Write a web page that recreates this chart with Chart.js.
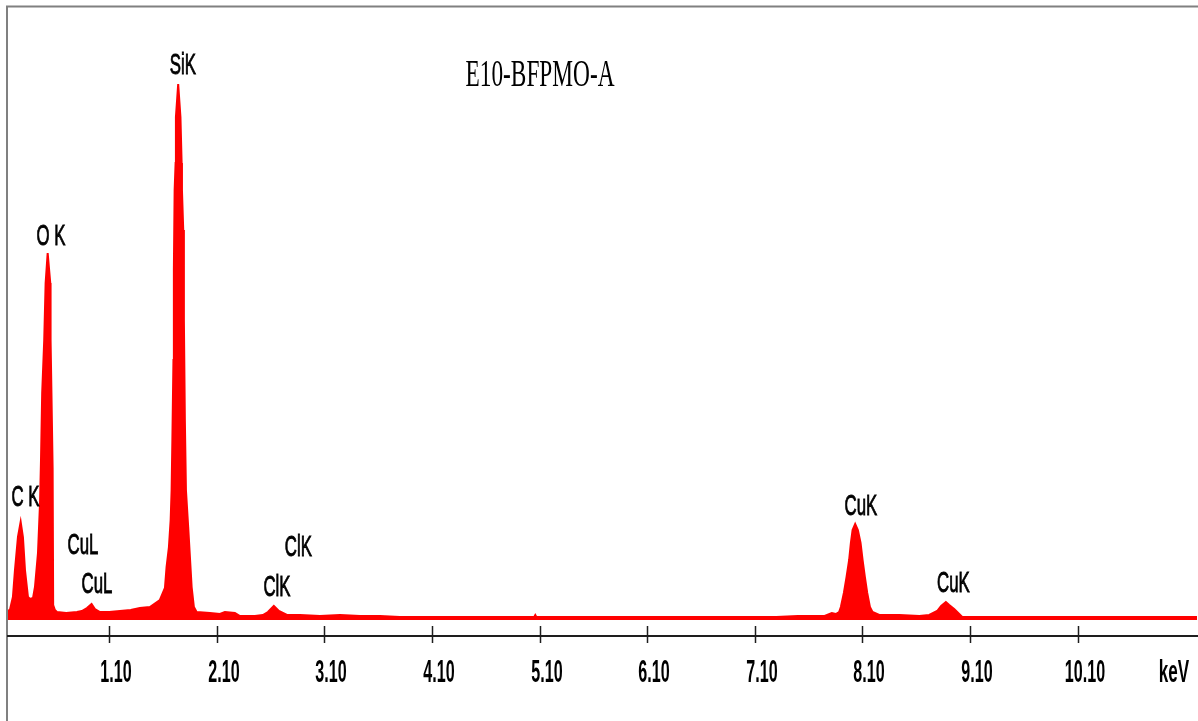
<!DOCTYPE html>
<html>
<head>
<meta charset="utf-8">
<script src="https://cdn.jsdelivr.net/npm/chart.js@4"></script>
<style>
  html, body { margin: 0; padding: 0; background: #fff; }
  canvas { display: block; }
</style>
</head>
<body>
<canvas id="myChart" width="1198" height="721"></canvas>
<script>
// EDS spectrum (keV / counts)
var energies = [0.15, 0.177, 0.205, 0.224, 0.252, 0.277, 0.298, 0.317, 0.345, 0.364,
  0.392, 0.410, 0.438, 0.457, 0.466, 0.477, 0.496, 0.509, 0.528, 0.552,
  0.555, 0.563, 0.574, 0.579, 0.595, 0.614, 0.70, 0.80, 0.846, 0.893,
  0.936, 0.967, 1.014, 1.10, 1.20, 1.30, 1.385, 1.478, 1.571, 1.618,
  1.633, 1.655, 1.671, 1.680, 1.687, 1.697, 1.701, 1.708, 1.717, 1.720,
  1.741, 1.762, 1.773, 1.776, 1.788, 1.794, 1.803, 1.813, 1.834, 1.850,
  1.866, 1.887, 1.912, 2.036, 2.129, 2.175, 2.268, 2.315, 2.454, 2.528,
  2.575, 2.630, 2.677, 2.752, 2.873, 3.059, 3.245, 3.431, 3.617, 3.80,
  5.05, 5.06, 5.07, 7.30, 7.50, 7.749, 7.816, 7.853, 7.884, 7.900,
  7.928, 7.953, 7.977, 7.993, 8.009, 8.033, 8.058, 8.083, 8.102, 8.123,
  8.145, 8.170, 8.194, 8.257, 8.443, 8.629, 8.721, 8.795, 8.832, 8.876,
  8.907, 8.953, 9.000, 9.028, 11.21];
var counts = [9, 10, 23, 50, 83, 98, 83, 50, 23, 21,
  22, 33, 67, 117, 160, 227, 280, 337, 367, 337,
  280, 227, 152, 15, 10, 8, 7, 8, 9, 12,
  16, 11, 8, 8, 9, 10, 12, 13, 20, 32,
  53, 73, 100, 130, 180, 260, 350, 430, 457, 503,
  536, 503, 457, 430, 390, 300, 200, 130, 93, 63,
  33, 13, 8, 7, 6, 8, 7, 4, 4, 5,
  8, 14, 9, 5, 5, 4, 5, 4, 4, 3,
  3, 5, 3, 3, 4, 4, 7, 6, 8, 13,
  27, 43, 60, 77, 90, 96, 90, 77, 60, 43,
  27, 13, 8, 5, 5, 4, 5, 9, 14, 18,
  15, 11, 6, 3, 3];

var tickValues = [1.1, 2.1, 3.1, 4.1, 5.1, 6.1, 7.1, 8.1, 9.1, 10.1];
var tickLabels = ["1.10", "2.10", "3.10", "4.10", "5.10", "6.10", "7.10", "8.10", "9.10", "10.10"];
var unitLabel = "keV";
var title = "E10-BFPMO-A";

// peak labels and where they sit (keV / counts)
var peakNames = ["C K", "O K", "CuL", "CuL", "SiK", "ClK", "ClK", "CuK", "CuK"];
var peakKeV = [0.321, 0.558, 0.856, 0.986, 1.785, 2.858, 2.659, 8.086, 8.946];
var peakAt = [125, 386, 77, 38, 557, 75, 35, 116, 39];

var points = energies.map((e, i) => ({x: e, y: counts[i]}));

// squeezed text, the picture is narrowed horizontally
function squeezed(ctx, text, x, y, font, size, k, heavy) {
  ctx.save();
  ctx.font = font;
  ctx.translate(x, y);
  ctx.scale(k, 1);
  ctx.textAlign = "center";
  ctx.textBaseline = "alphabetic";
  ctx.fillStyle = "#000";
  ctx.fillText(text, 0, size * 0.358);
  if (heavy) {
    ctx.strokeStyle = "#000";
    ctx.lineWidth = heavy;
    ctx.strokeText(text, 0, size * 0.358);
  }
  ctx.restore();
}

var decor = {
  id: "decor",
  beforeDraw(chart) {
    var ctx = chart.ctx;
    ctx.save();
    ctx.fillStyle = "#fff";
    ctx.fillRect(0, 0, chart.width, chart.height);
    ctx.restore();
  },
  afterDraw(chart) {
    var ctx = chart.ctx, area = chart.chartArea;
    var xs = chart.scales.x, ys = chart.scales.y;
    ctx.save();
    // frame
    ctx.strokeStyle = "#808080";
    ctx.lineWidth = 2;
    ctx.beginPath();
    ctx.moveTo(area.left, chart.height);
    ctx.lineTo(area.left, 6.5);
    ctx.lineTo(chart.width, 6.5);
    ctx.stroke();
    // axis line
    ctx.strokeStyle = "#1e1e1e";
    ctx.lineWidth = 2;
    ctx.beginPath();
    ctx.moveTo(area.left, area.bottom);
    ctx.lineTo(chart.width, area.bottom);
    ctx.stroke();
    ctx.lineWidth = 1.5;
    tickValues.forEach((v, i) => {
      var px = Math.round(xs.getPixelForValue(v)) + 0.5;
      ctx.beginPath();
      ctx.moveTo(px, area.bottom - 10);
      ctx.lineTo(px, area.bottom + 7);
      ctx.stroke();
      squeezed(ctx, tickLabels[i], px + 6.5, 670.5, "bold 31px 'Liberation Sans'", 31, 0.52);
    });
    ctx.restore();
    squeezed(ctx, unitLabel, 1174, 670.5, "bold 31px 'Liberation Sans'", 31, 0.55);
    // peak labels
    peakNames.forEach((n, i) => {
      squeezed(ctx, n, xs.getPixelForValue(peakKeV[i]), ys.getPixelForValue(peakAt[i]),
        "30px 'Liberation Sans'", 30, 0.56, 0.9);
    });
    // title
    squeezed(ctx, title, 540, 74.5, "37px 'Liberation Serif'", 37 * 0.9, 0.63);
  }
};

new Chart("myChart", {
  type: "line",
  data: {
    datasets: [{
      data: points,
      borderColor: "#ff0000",
      backgroundColor: "#ff0000",
      borderWidth: 2,
      pointRadius: 0,
      tension: 0,
      fill: "origin"
    }]
  },
  options: {
    responsive: false,
    animation: false,
    devicePixelRatio: 1,
    layout: {padding: {left: 7, top: 7, right: 1, bottom: 85}},
    scales: {
      x: {type: "linear", min: 0.15, max: 11.21, display: false},
      y: {min: -16, max: 613, display: false}
    },
    plugins: {
      legend: {display: false},
      tooltip: {enabled: false}
    }
  },
  plugins: [decor]
});
</script>
</body>
</html>
